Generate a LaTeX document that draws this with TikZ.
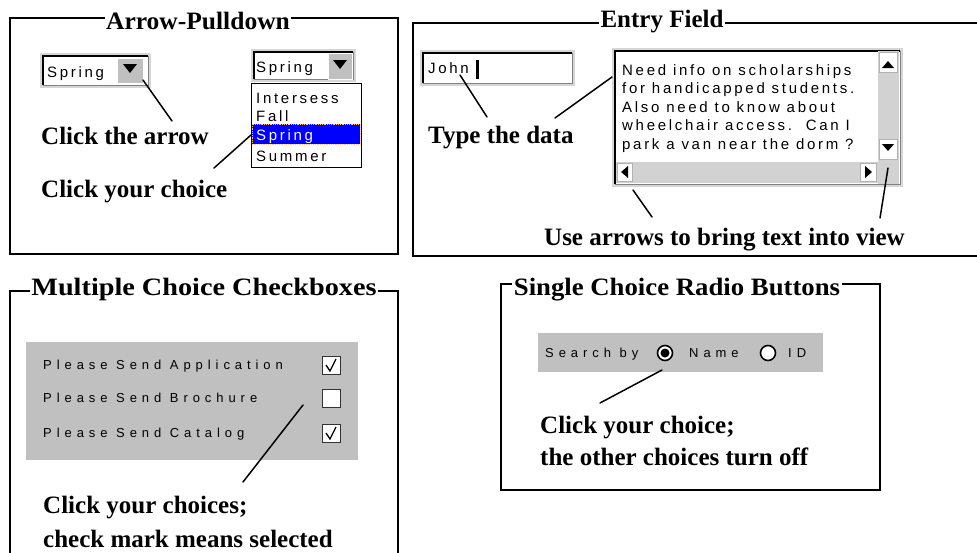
\documentclass[tikz,border=0pt]{standalone}
\usepackage{fontspec}
\setmainfont{Liberation Serif}
\newfontfamily\wfont[LetterSpace=18]{Liberation Sans}
\newfontfamily\pfont[LetterSpace=38]{Liberation Sans}
\usetikzlibrary{positioning}

\definecolor{panelgray}{HTML}{C0C0C0}
\definecolor{edgegray}{HTML}{D6D6D6}
\definecolor{troughgray}{HTML}{D2D2D2}
\definecolor{selblue}{HTML}{0000FF}

% sunken entry field: light rim, white inside, dark upper-left edge
\newcommand\sunkenbox[4]{%
  \fill[edgegray] (#1,#2) rectangle (#3,#4);
  \fill[white] (#1+3,#2+3) rectangle (#3-3,#4-3);
  \draw[gray,line width=1pt] (#3-3,#2+3) -- (#3-3,#4-3) -- (#1+3,#4-3);
  \draw[black,line width=2pt] (#1+3,#4-3) -- (#1+3,#2+3) -- (#3-3,#2+3);
}
\newcommand\titlefont[1]{\fontsize{25}{25}\selectfont\bfseries
  \addfontfeature{FakeStretch=#1}}

\begin{document}
\begin{tikzpicture}[
    x=1pt,y=-1pt,
    frame/.style={draw,line width=1.2pt},
    title/.style={fill=white,inner xsep=1.5pt,inner ysep=0pt,anchor=base,
        font=\titlefont{#1}},
    title/.default=1,
    hint/.style={anchor=base west,inner sep=0pt,
        font=\fontsize{25}{25}\selectfont\bfseries},
    pointer/.style={line width=1.5pt,line cap=round},
    wtext/.style={anchor=base west,inner sep=0pt,
        font=\fontsize{15}{15}\selectfont\wfont},
    ptext/.style={anchor=base west,inner sep=0pt,
        font=\fontsize{13}{13}\selectfont\pfont},
    btn/.style={fill=panelgray,draw=white,line width=1pt},
    tri/.style={fill=black},
    chk/.style={fill=white,draw=black!80,line width=1pt},
    radio/.style={circle,draw=black,line width=1.6pt,fill=white,
        minimum size=15pt,inner sep=0pt}
  ]
    \useasboundingbox (0,0) rectangle (977,552);

    % ---------------- Arrow-Pulldown
    \draw[frame] (10,18) rectangle (398,254);
    \node[title=1.02] (tpull) at (198,29) {Arrow-Pulldown};

    \sunkenbox{40}{53}{151}{88}
    \node[wtext] (sprA) at (47,77) {Spring};
    \draw[btn] (117,58) rectangle (143,83);
    \fill[tri] (123,64) -- (137,64) -- (130,73) -- cycle;
    \coordinate (arrA) at (143,80);

    \sunkenbox{251}{49}{356}{82}
    \node[wtext] (sprB) at (256,72) {Spring};
    \draw[btn] (328,53) rectangle (352,79);
    \fill[tri] (333,60) -- (347,60) -- (340,69) -- cycle;

    \draw[fill=white,line width=0.8pt] (251,83) rectangle (361,167);
    \fill[selblue] (252,124) rectangle (360,144);
    \draw[orange!45,densely dotted,line width=0.8pt] (252,124) rectangle (360,144);
    \node[wtext] (lst1) at (256,103) {Intersess};
    \node[wtext] (lst2) at (256,121) {Fall};
    \node[wtext,text=white] (lst3) at (256,140) {Spring};
    \node[wtext] (lst4) at (256,161) {Summer};
    \coordinate (selA) at (251,135);

    \node[hint] (hclickarrow) at (41,144) {Click the arrow};
    \node[hint] (hclickchoice) at (41,197) {Click your choice};
    \coordinate (hA) at (172,121);
    \coordinate (hB) at (214,168);
    \draw[pointer] (arrA) -- (hA);
    \draw[pointer] (selA) -- (hB);

    % ---------------- Entry Field
    \draw[frame] (413,23) rectangle (990,256);
    \node[title] (tentry) at (662,27) {Entry Field};

    \sunkenbox{420}{50}{575}{86}
    \node[wtext] (john) at (428,73) {John};
    \fill (476,60) rectangle (479,79);
    \coordinate (johnp) at (460,75);

    \sunkenbox{612}{48}{903}{187}
    \node[anchor=north west,inner sep=0pt,align=left,
        font=\fontsize{15}{18.5}\selectfont\wfont] (memo) at (622,64)
        {Need info on scholarships\\for handicapped students.\\
         Also need to know about\\wheelchair access.\ \ Can I\\
         park a van near the dorm ?};
    % scroll bars
    \fill[troughgray] (878,51) rectangle (899,184);
    \fill[troughgray] (616,162) rectangle (899,183);
    \draw[fill=white,draw=gray!60,line width=0.8pt] (879,52) rectangle (897,72);
    \fill[tri] (882,68) -- (894,68) -- (888,61) -- cycle;
    \draw[fill=white,draw=gray!60,line width=0.8pt] (879,139) rectangle (897,159);
    \fill[tri] (882,144) -- (894,144) -- (888,151) -- cycle;
    \draw[fill=white,draw=gray!60,line width=0.8pt] (617,163) rectangle (632,181);
    \fill[tri] (628,166) -- (628,178) -- (621,172) -- cycle;
    \draw[fill=white,draw=gray!60,line width=0.8pt] (860,163) rectangle (876,181);
    \fill[tri] (865,166) -- (865,178) -- (872,172) -- cycle;
    \coordinate (memop) at (612,77);
    \coordinate (hscrollp) at (633,190);
    \coordinate (vscrollp) at (888,168);

    \node[hint] (htype) at (428,143) {Type the data};
    \node[hint] (harrows) at (544,245) {Use arrows to bring text into view};
    \coordinate (hC) at (487,117);
    \coordinate (hD) at (555,118);
    \coordinate (hE) at (652,217);
    \coordinate (hF) at (880,218);
    \draw[pointer] (johnp) -- (hC);
    \draw[pointer] (memop) -- (hD);
    \draw[pointer] (hscrollp) -- (hE);
    \draw[pointer] (vscrollp) -- (hF);

    % ---------------- Multiple Choice Checkboxes
    \draw[frame] (10,291) rectangle (398,600);
    \node[title=1.13] (tcheck) at (204,295) {Multiple Choice Checkboxes};

    \fill[panelgray] (26,342) rectangle (358,460);
    \node[ptext] (opt1) at (43,369.5) {Please Send Application};
    \node[ptext] (opt2) at (43,402.5) {Please Send Brochure};
    \node[ptext] (opt3) at (43,437.5) {Please Send Catalog};
    \draw[chk] (322,356) rectangle (340,374);
    \draw[chk] (322,389) rectangle (340,407);
    \draw[chk] (322,424) rectangle (340,442);
    \draw[line width=1.3pt] (326,365) -- (330,371) -- (336,359);
    \draw[line width=1.3pt] (326,433) -- (330,439) -- (336,427);
    \coordinate (chkp) at (303,405);

    \node[hint] (hchoices) at (43,513) {Click your choices;};
    \node[hint] (hcheckmark) at (43,547) {check mark means selected};
    \coordinate (hG) at (243,482);
    \draw[pointer] (chkp) -- (hG);

    % ---------------- Single Choice Radio Buttons
    \draw[frame] (501,284) rectangle (880,490);
    \node[title=1.07] (tradio) at (677,295) {Single Choice Radio Buttons};

    \fill[panelgray] (538,333) rectangle (823,372);
    \node[ptext] (search) at (545,357.5) {Search by};
    \node[radio] (rname) at (665,353) {};
    \fill (rname) circle (4.5);
    \node[ptext] (lname) at (689,357.5) {Name};
    \node[radio] (rid) at (768,353) {};
    \node[ptext] (lid) at (788,357.5) {ID};
    \coordinate (radiop) at (662,370);

    \node[hint] (hone) at (540,433) {Click your choice;};
    \node[hint] (hoff) at (540,465) {the other choices turn off};
    \coordinate (hH) at (600,403);
    \draw[pointer] (radiop) -- (hH);
\end{tikzpicture}
\end{document}
